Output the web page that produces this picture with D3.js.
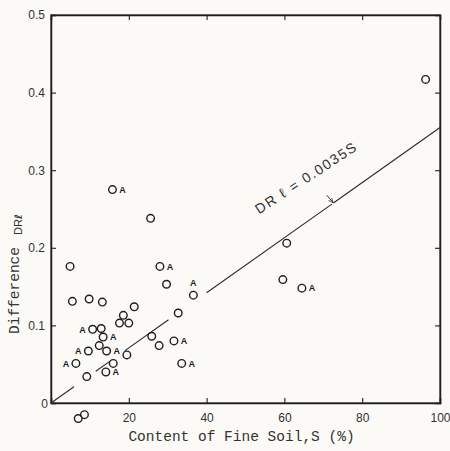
<!DOCTYPE html>
<html><head><meta charset="utf-8">
<script src="https://cdn.jsdelivr.net/npm/d3@7"></script>
<style>
html,body{margin:0;padding:0;background:#fbfaf6;}
svg{display:block;}
</style></head>
<body>
<svg id="c" width="450" height="451"></svg>
<script>
// ---- data ----
const soil = [4.9,5.5,9.8,13.2,21.4,18.6,17.6,20.0,10.7,12.9,13.4,9.6,12.4,14.3,6.4,9.2,16.0,14.1,19.5,7.0,8.6,25.6,28.0,29.7,36.6,15.8,60.6,59.6,64.5,32.7,25.9,27.8,31.6,33.6,96.3];
const diff = [0.176,0.131,0.134,0.130,0.124,0.113,0.103,0.103,0.095,0.096,0.085,0.067,0.074,0.067,0.051,0.034,0.051,0.040,0.062,-0.020,-0.015,0.238,0.176,0.153,0.139,0.275,0.206,0.159,0.148,0.116,0.086,0.074,0.080,0.051,0.417];
const aMark = ["","","","","","","","","l","","r","l","","r","l","","","r","","","","","r","","t","r","","","r","","","","r","r",""];
const xTicks = [20,40,60,80,100];
const yTicks = [0,0.1,0.2,0.3,0.4,0.5];
const lineSlope = 0.00355;
const lineSegments = [[0,5.9],[11.5,15.2],[19.0,30.2],[40.0,72.2],[72.6,100]];
const eqText = "DR \u2113 = 0.0035S";

const svg = d3.select("#c");
const x = d3.scaleLinear().domain([0,100]).range([51,440]);
const y = d3.scaleLinear().domain([0,0.5]).range([403,15]);
const ink = "#1e1e1e";

// frame
svg.append("rect").attr("x",x(0)).attr("y",y(0.5)).attr("width",x(100)-x(0)).attr("height",y(0)-y(0.5))
  .attr("fill","none").attr("stroke","#3a3a3a").attr("stroke-width",1.3);

// axes
const fmtY = d => d===0 ? "0" : d3.format(".1f")(d);
const gl = svg.append("g").attr("transform",`translate(${x(0)},0)`)
  .call(d3.axisLeft(y).tickValues(yTicks).tickSize(-5).tickPadding(6).tickFormat(fmtY));
const gr = svg.append("g").attr("transform",`translate(${x(100)},0)`)
  .call(d3.axisRight(y).tickValues(yTicks.slice(1,5)).tickSize(-5).tickFormat(""));
const gb = svg.append("g").attr("transform",`translate(0,${y(0)})`)
  .call(d3.axisBottom(x).tickValues(xTicks).tickSize(-5).tickPadding(10).tickFormat(d3.format("d")));
const gt = svg.append("g").attr("transform",`translate(0,${y(0.5)})`)
  .call(d3.axisTop(x).tickValues(xTicks.slice(0,4)).tickSize(-5).tickFormat(""));
[gl,gr,gb,gt].forEach(g=>{
  g.select(".domain").attr("stroke",ink).attr("stroke-width",1.5);
  g.selectAll(".tick line").attr("stroke",ink).attr("stroke-width",1.1);
  g.selectAll(".tick text").attr("fill","#333").attr("font-family","'Liberation Sans',Arial,sans-serif").attr("font-size",12);
});
gl.selectAll(".tick text").filter(d=>d===0).attr("x",-3).attr("dy","0.4em");

// regression line segments
svg.append("g").selectAll("line").data(lineSegments).join("line")
  .attr("x1",d=>x(d[0])).attr("y1",d=>y(lineSlope*d[0]))
  .attr("x2",d=>x(d[1])).attr("y2",d=>y(lineSlope*d[1]))
  .attr("stroke","#2a2a2a").attr("stroke-width",1.1);

// equation label
const ang = -Math.atan((y(0)-y(lineSlope*100))/(x(100)-x(0)))*180/Math.PI + 2;
svg.append("text").attr("transform",`translate(${x(53.5)},${y(0.243)}) rotate(${ang})`)
  .attr("font-family","'Liberation Sans',Arial,sans-serif").attr("font-size",14)
  .attr("letter-spacing",1.6).attr("fill","#333").text(eqText);

// arrow
svg.append("defs").append("marker").attr("id","ah").attr("viewBox","0 0 10 10").attr("refX",9).attr("refY",5)
  .attr("markerWidth",5).attr("markerHeight",5).attr("orient","auto")
  .append("path").attr("d","M0,1 L10,5 L0,9").attr("fill","none").attr("stroke","#333").attr("stroke-width",1.5);
svg.append("line").attr("x1",x(70.9)).attr("y1",y(0.2677)).attr("x2",x(72.5)).attr("y2",y(0.2584))
  .attr("stroke","#333").attr("stroke-width",1).attr("marker-end","url(#ah)");

// points
const pts = soil.map((s,i)=>({s, d:diff[i], a:aMark[i]}));
svg.append("g").selectAll("circle").data(pts).join("circle")
  .attr("cx",d=>x(d.s)).attr("cy",d=>y(d.d)).attr("r",3.8)
  .attr("fill","none").attr("stroke",ink).attr("stroke-width",1.4);
const off = {l:[-10,0], r:[10,0], t:[0,-12]};
svg.append("g").selectAll("text").data(pts.filter(p=>p.a)).join("text")
  .attr("x",d=>x(d.s)+off[d.a][0]).attr("y",d=>y(d.d)+off[d.a][1]+3.3)
  .attr("text-anchor","middle").attr("font-family","'Liberation Sans',Arial,sans-serif")
  .attr("font-weight","bold").attr("font-size",9).attr("fill",ink).text("A");

// axis titles
svg.append("text").attr("x",(x(0)+x(100))/2-4).attr("y",441).attr("text-anchor","middle")
  .attr("font-family","'Liberation Mono','Courier New',monospace").attr("font-size",14.5).attr("fill","#333")
  .text("Content of Fine Soil,S (%)");
const yl = svg.append("text").attr("transform","translate(19,334) rotate(-90)")
  .attr("font-family","'Liberation Mono','Courier New',monospace").attr("font-size",14.5).attr("fill","#333");
yl.append("tspan").text("Difference");
yl.append("tspan").attr("dx",12).attr("dy",3).attr("font-family","'Liberation Sans',Arial,sans-serif").attr("font-size",11).text("DR");
yl.append("tspan").attr("font-family","'DejaVu Sans',sans-serif").attr("font-weight","bold").attr("font-size",10).text("\u2113");
</script>
</body></html>
